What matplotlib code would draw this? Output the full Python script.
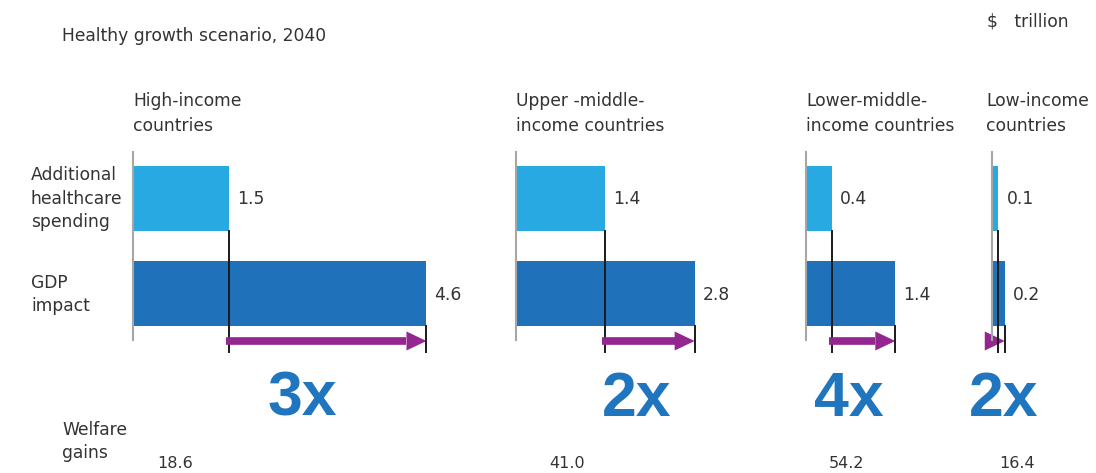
"""Healthy growth scenario 2040: healthcare spending vs GDP impact by income group."""
import matplotlib
matplotlib.use("Agg")
import matplotlib.pyplot as plt

W, H = 1096, 473
OUT = "out.png"

GROUPS = ["High-income\ncountries", "Upper -middle-\nincome countries",
          "Lower-middle-\nincome countries", "Low-income\ncountries"]
SPENDING = [1.5, 1.4, 0.4, 0.1]
GDP = [4.6, 2.8, 1.4, 0.2]
MULTIPLIER = ["3x", "2x", "4x", "2x"]
WELFARE = ["18.6", "41.0", "54.2", "16.4"]
ROW_LABELS = ["Additional\nhealthcare\nspending", "GDP\nimpact"]

LIGHT = "#29a9e1"
DARK = "#1f72b9"
BIG = "#1f75be"
PURPLE = "#93278f"
TXT = "#333333"

SCALE = 63.8              # px per $ trillion, shared by all panels
PANEL_LEFT = [133, 516, 806, 992]
TITLE_X = [133, 516, 806, 986]
PANEL_W = 300
MULT_X = [302, 637, 849, 1004]
WELF_X = [175, 567, 846, 1017]
FS = 12.3


def fx(px):
    return px / W


def fy(py):
    return 1 - py / H


def main():
    plt.rcParams["font.family"] = ["DejaVu Sans"]
    fig = plt.figure(figsize=(W / 100, H / 100), dpi=100)

    # y data: rows at 0 and 1 with 95 px spacing
    y0, y1 = -0.55, 1.75
    top_px = 198.5 + y0 * 95
    h_px = (y1 - y0) * 95
    bh = 65 / 95

    for i, left in enumerate(PANEL_LEFT):
        ax = fig.add_axes([fx(left), fy(top_px + h_px), fx(PANEL_W), h_px / H])
        ax.set_xlim(0, PANEL_W / SCALE)
        ax.set_ylim(y1, y0)
        ax.axis("off")

        s, g = SPENDING[i], GDP[i]
        ax.barh([0, 1], [s, g], height=bh, color=[LIGHT, DARK])
        for yi, v in zip([0, 1], [s, g]):
            ax.annotate(f"{v}", xy=(v, yi), xytext=(8, -1), textcoords="offset pixels",
                        va="center", ha="left", fontsize=FS, color=TXT)

        ax.plot([0, 0], [-0.49, 1.49], color="#a6a6a6", lw=1.5, clip_on=False)
        ax.plot([s, s], [bh / 2, 1.62], color="#1a1a1a", lw=1.4, clip_on=False)
        ax.plot([g, g], [1 + bh / 2, 1.62], color="#1a1a1a", lw=1.4, clip_on=False)

        # arrow from spending level to GDP level
        head_len = 20 / SCALE
        head_hw = 9.5 / 95
        ya = 1.5
        base = g - head_len
        if base > s:
            ax.plot([s - 3 / SCALE, base], [ya, ya], color=PURPLE, lw=5.5,
                    solid_capstyle="butt", clip_on=False)
        ax.fill([base, g, base], [ya - head_hw, ya, ya + head_hw],
                color=PURPLE, lw=0, clip_on=False)

        fig.text(fx(TITLE_X[i]), fy(113.5), GROUPS[i], ha="left", va="center",
                 fontsize=FS, color=TXT, linespacing=1.5)
        fig.text(fx(MULT_X[i]), fy(399), MULTIPLIER[i], ha="center", va="center",
                 fontsize=45, fontweight="bold", color=BIG,
                 family=["Liberation Sans", "DejaVu Sans"])
        fig.text(fx(WELF_X[i]), fy(463), WELFARE[i], ha="center", va="center",
                 fontsize=11.5, color=TXT)

    fig.text(fx(62), fy(36), "Healthy growth scenario, 2040", ha="left", va="center",
             fontsize=FS, color=TXT)
    fig.text(fx(987), fy(21), "$   trillion", ha="left", va="center",
             fontsize=FS, color=TXT)
    fig.text(fx(31), fy(198.5), ROW_LABELS[0], ha="left", va="center",
             fontsize=FS, color=TXT, linespacing=1.4)
    fig.text(fx(31), fy(294.5), ROW_LABELS[1], ha="left", va="center",
             fontsize=FS, color=TXT, linespacing=1.4)
    fig.text(fx(62), fy(441.5), "Welfare\ngains", ha="left", va="center",
             fontsize=FS, color=TXT, linespacing=1.4)

    fig.savefig(OUT, dpi=100)
    plt.close(fig)


if __name__ == "__main__":
    main()
